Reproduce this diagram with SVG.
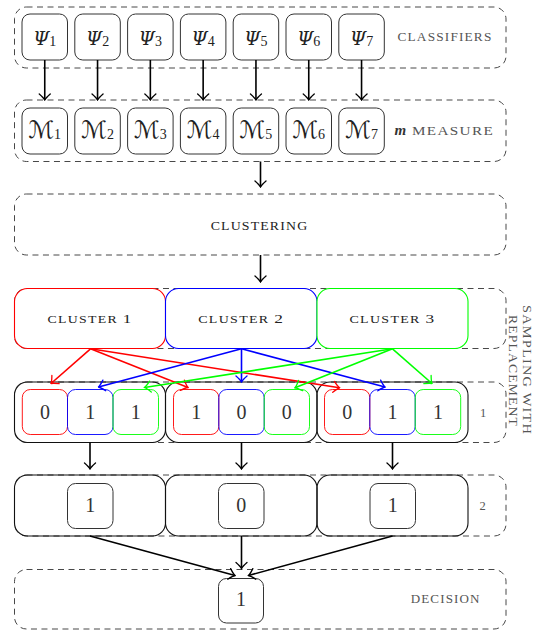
<svg xmlns="http://www.w3.org/2000/svg" width="534" height="631" viewBox="0 0 534 631">
<defs>
<style>
.dash{fill:none;stroke:#333;stroke-width:0.9;stroke-dasharray:6 4.5}
.box{fill:#fff;stroke:#333;stroke-width:1}
.obox{fill:none;stroke:#111;stroke-width:1.1}
.red{stroke:#ff0000}
.blue{stroke:#0000ff}
.green{stroke:#00ff00}
.cl{fill:#fff;stroke-width:1.1}
.ib{fill:none;stroke-width:0.9}
.lab{font-family:"Liberation Serif","Times New Roman",serif;fill:#555}
.dk{fill:#222}
.num{font-family:"Liberation Serif","Times New Roman",serif;fill:#333;font-size:20px;text-anchor:middle}
.math{font-family:"DejaVu Serif",serif;fill:#222;font-size:18.5px;text-anchor:middle}
.cal{font-family:"DejaVu Serif","DejaVu Sans",serif;fill:#222;font-size:24px;text-anchor:middle}
.sub{font-family:"Liberation Serif","Times New Roman",serif;font-size:14px;font-style:normal}
.ar{fill:none;stroke-width:1.6}
.k{stroke:#000}
</style>
<marker id="ak" viewBox="-8 -7 9 14" refX="0" refY="0" markerWidth="9" markerHeight="14" markerUnits="userSpaceOnUse" orient="auto"><path d="M-6,-5.5 Q-2,-1 0,0 Q-2,1 -6,5.5" fill="none" stroke="#000" stroke-width="1.3" stroke-linecap="round"/></marker>
<marker id="ar" viewBox="-8 -7 9 14" refX="0" refY="0" markerWidth="9" markerHeight="14" markerUnits="userSpaceOnUse" orient="auto"><path d="M-6,-5.5 Q-2,-1 0,0 Q-2,1 -6,5.5" fill="none" stroke="#ff0000" stroke-width="1.3" stroke-linecap="round"/></marker>
<marker id="ab" viewBox="-8 -7 9 14" refX="0" refY="0" markerWidth="9" markerHeight="14" markerUnits="userSpaceOnUse" orient="auto"><path d="M-6,-5.5 Q-2,-1 0,0 Q-2,1 -6,5.5" fill="none" stroke="#0000ff" stroke-width="1.3" stroke-linecap="round"/></marker>
<marker id="ag" viewBox="-8 -7 9 14" refX="0" refY="0" markerWidth="9" markerHeight="14" markerUnits="userSpaceOnUse" orient="auto"><path d="M-6,-5.5 Q-2,-1 0,0 Q-2,1 -6,5.5" fill="none" stroke="#00ff00" stroke-width="1.3" stroke-linecap="round"/></marker>
</defs>
<rect width="534" height="631" fill="#fff"/>

<!-- row containers -->
<g id="classifiers-row">
<rect class="dash" x="14.5" y="7" width="491.5" height="61" rx="12"/>
<text class="lab" style="font-size:11.5px" x="397.5" y="41" textLength="95" lengthAdjust="spacingAndGlyphs" letter-spacing="1">CLASSIFIERS</text>
</g>
<g id="measure-row">
<rect class="dash" x="14.5" y="100" width="491.5" height="61.5" rx="12"/>
<text class="lab" style="font-size:15px;font-style:italic;font-weight:bold;fill:#333" x="394.5" y="135">m</text>
<text class="lab" style="font-size:11.5px" x="412" y="135" textLength="82" lengthAdjust="spacingAndGlyphs" letter-spacing="1">MEASURE</text>
</g>
<g id="clustering">
<rect class="dash" x="14.5" y="194" width="491.5" height="61" rx="12"/>
<text class="lab dk" style="font-size:12px" x="210.7" y="229.5" textLength="97.6" lengthAdjust="spacingAndGlyphs" letter-spacing="1">CLUSTERING</text>
</g>
<g id="sampling-row">
<rect class="dash" x="14.5" y="288.5" width="491.5" height="60" rx="12"/>
<text class="lab" style="font-size:12px" transform="translate(523,370) rotate(90)" text-anchor="middle" textLength="130" lengthAdjust="spacingAndGlyphs" letter-spacing="1">SAMPLING WITH</text>
<text class="lab" style="font-size:12px" transform="translate(509,371) rotate(90)" text-anchor="middle" textLength="112" lengthAdjust="spacingAndGlyphs" letter-spacing="1">REPLACEMENT</text>
</g>
<g id="level1-row">
<rect class="dash" x="14.5" y="382" width="491.5" height="60.5" rx="12"/>
<text class="lab" style="font-size:12.5px" x="483" y="417" text-anchor="middle">1</text>
</g>
<g id="level2-row">
<rect class="dash" x="14.5" y="475" width="491.5" height="61" rx="12"/>
<text class="lab" style="font-size:12.5px" x="482.5" y="510.3" text-anchor="middle">2</text>
</g>
<g id="decision-row">
<rect class="dash" x="14.5" y="569.5" width="491.5" height="59.5" rx="12"/>
<text class="lab" style="font-size:11.5px" x="410.7" y="603" textLength="70" lengthAdjust="spacingAndGlyphs" letter-spacing="1">DECISION</text>
</g>

<!-- classifiers -->
<g id="psi1"><rect class="box" x="22" y="14" width="45.5" height="46" rx="8"/><text class="math" x="44.75" y="44.7"><tspan font-style="italic">Ψ</tspan><tspan class="sub" dy="1.3">1</tspan></text></g>
<g id="psi2"><rect class="box" x="74.8" y="14" width="45.5" height="46" rx="8"/><text class="math" x="97.55" y="44.7"><tspan font-style="italic">Ψ</tspan><tspan class="sub" dy="1.3">2</tspan></text></g>
<g id="psi3"><rect class="box" x="127.6" y="14" width="45.5" height="46" rx="8"/><text class="math" x="150.35" y="44.7"><tspan font-style="italic">Ψ</tspan><tspan class="sub" dy="1.3">3</tspan></text></g>
<g id="psi4"><rect class="box" x="180.4" y="14" width="45.5" height="46" rx="8"/><text class="math" x="203.15" y="44.7"><tspan font-style="italic">Ψ</tspan><tspan class="sub" dy="1.3">4</tspan></text></g>
<g id="psi5"><rect class="box" x="233.2" y="14" width="45.5" height="46" rx="8"/><text class="math" x="255.95" y="44.7"><tspan font-style="italic">Ψ</tspan><tspan class="sub" dy="1.3">5</tspan></text></g>
<g id="psi6"><rect class="box" x="286" y="14" width="45.5" height="46" rx="8"/><text class="math" x="308.75" y="44.7"><tspan font-style="italic">Ψ</tspan><tspan class="sub" dy="1.3">6</tspan></text></g>
<g id="psi7"><rect class="box" x="338.8" y="14" width="45.5" height="46" rx="8"/><text class="math" x="361.55" y="44.7"><tspan font-style="italic">Ψ</tspan><tspan class="sub" dy="1.3">7</tspan></text></g>

<!-- measures -->
<g id="m1"><rect class="box" x="22" y="108" width="45.5" height="46" rx="8"/><text class="cal" x="44.75" y="137.5">ℳ<tspan class="sub" dy="1.5">1</tspan></text></g>
<g id="m2"><rect class="box" x="74.8" y="108" width="45.5" height="46" rx="8"/><text class="cal" x="97.55" y="137.5">ℳ<tspan class="sub" dy="1.5">2</tspan></text></g>
<g id="m3"><rect class="box" x="127.6" y="108" width="45.5" height="46" rx="8"/><text class="cal" x="150.35" y="137.5">ℳ<tspan class="sub" dy="1.5">3</tspan></text></g>
<g id="m4"><rect class="box" x="180.4" y="108" width="45.5" height="46" rx="8"/><text class="cal" x="203.15" y="137.5">ℳ<tspan class="sub" dy="1.5">4</tspan></text></g>
<g id="m5"><rect class="box" x="233.2" y="108" width="45.5" height="46" rx="8"/><text class="cal" x="255.95" y="137.5">ℳ<tspan class="sub" dy="1.5">5</tspan></text></g>
<g id="m6"><rect class="box" x="286" y="108" width="45.5" height="46" rx="8"/><text class="cal" x="308.75" y="137.5">ℳ<tspan class="sub" dy="1.5">6</tspan></text></g>
<g id="m7"><rect class="box" x="338.8" y="108" width="45.5" height="46" rx="8"/><text class="cal" x="361.55" y="137.5">ℳ<tspan class="sub" dy="1.5">7</tspan></text></g>

<!-- clusters -->
<g id="cluster1"><rect class="cl red" x="14.5" y="288.5" width="151" height="60" rx="13"/><text class="lab dk" style="font-size:10.5px" x="90" y="322.5" text-anchor="middle" textLength="85" lengthAdjust="spacingAndGlyphs" letter-spacing="1">CLUSTER <tspan style="font-size:13px">1</tspan></text></g>
<g id="cluster2"><rect class="cl blue" x="165.5" y="288.5" width="151.5" height="60" rx="13"/><text class="lab dk" style="font-size:10.5px" x="241.25" y="322.5" text-anchor="middle" textLength="86" lengthAdjust="spacingAndGlyphs" letter-spacing="1">CLUSTER <tspan style="font-size:13px">2</tspan></text></g>
<g id="cluster3"><rect class="cl green" x="317" y="288.5" width="151" height="60" rx="13"/><text class="lab dk" style="font-size:10.5px" x="392.5" y="322.5" text-anchor="middle" textLength="86" lengthAdjust="spacingAndGlyphs" letter-spacing="1">CLUSTER <tspan style="font-size:13px">3</tspan></text></g>

<!-- level 1 samples -->
<g id="sample1">
<rect class="obox" x="14.5" y="382" width="151" height="60.5" rx="13"/>
<rect class="ib red" x="22.3" y="389.5" width="45.2" height="45" rx="8"/>
<rect class="ib blue" x="67.5" y="389.5" width="45.5" height="45" rx="8"/>
<rect class="ib green" x="113" y="389.5" width="45.5" height="45" rx="8"/>
<text class="num" x="44.9" y="419.3">0</text><text class="num" x="90.25" y="419.3">1</text><text class="num" x="135.75" y="419.3">1</text>
</g>
<g id="sample2">
<rect class="obox" x="165.5" y="382" width="151.5" height="60.5" rx="13"/>
<rect class="ib red" x="173.5" y="389.5" width="45.3" height="45" rx="8"/>
<rect class="ib blue" x="218.8" y="389.5" width="45.4" height="45" rx="8"/>
<rect class="ib green" x="264.2" y="389.5" width="45.3" height="45" rx="8"/>
<text class="num" x="196.15" y="419.3">1</text><text class="num" x="241.5" y="419.3">0</text><text class="num" x="286.85" y="419.3">0</text>
</g>
<g id="sample3">
<rect class="obox" x="317" y="382" width="151" height="60.5" rx="13"/>
<rect class="ib red" x="324.5" y="389.5" width="45.3" height="45" rx="8"/>
<rect class="ib blue" x="369.8" y="389.5" width="45.4" height="45" rx="8"/>
<rect class="ib green" x="415.2" y="389.5" width="45.5" height="45" rx="8"/>
<text class="num" x="347.15" y="419.3">0</text><text class="num" x="392.5" y="419.3">1</text><text class="num" x="437.95" y="419.3">1</text>
</g>

<!-- level 2 votes -->
<g id="vote1"><rect class="obox" x="14.5" y="475" width="151" height="61" rx="13"/><rect class="box" x="67.5" y="483.5" width="45.5" height="45" rx="8"/><text class="num" x="90.25" y="512.3">1</text></g>
<g id="vote2"><rect class="obox" x="165.5" y="475" width="151.5" height="61" rx="13"/><rect class="box" x="218.5" y="483.5" width="45.5" height="45" rx="8"/><text class="num" x="241.25" y="512.3">0</text></g>
<g id="vote3"><rect class="obox" x="317" y="475" width="151" height="61" rx="13"/><rect class="box" x="370" y="483.5" width="45.5" height="45" rx="8"/><text class="num" x="392.75" y="512.3">1</text></g>

<!-- decision -->
<g id="decision"><rect class="box" x="218.5" y="578.5" width="45" height="44.5" rx="8"/><text class="num" x="241" y="606">1</text></g>

<!-- connectors -->
<g id="connectors">
<g class="ar k" marker-end="url(#ak)">
<line x1="44.75" y1="60" x2="44.75" y2="100"/>
<line x1="97.55" y1="60" x2="97.55" y2="100"/>
<line x1="150.35" y1="60" x2="150.35" y2="100"/>
<line x1="203.15" y1="60" x2="203.15" y2="100"/>
<line x1="255.95" y1="60" x2="255.95" y2="100"/>
<line x1="308.75" y1="60" x2="308.75" y2="100"/>
<line x1="361.55" y1="60" x2="361.55" y2="100"/>
<line x1="260.5" y1="161.5" x2="260.5" y2="187"/>
<line x1="260.5" y1="255" x2="260.5" y2="282"/>
<line x1="90" y1="442.5" x2="90" y2="469"/>
<line x1="241.5" y1="442.5" x2="241.5" y2="469"/>
<line x1="392.5" y1="442.5" x2="392.5" y2="469"/>
<line x1="90" y1="536" x2="235" y2="575.5"/>
<line x1="241.5" y1="536" x2="241.5" y2="568.5"/>
<line x1="392.5" y1="536" x2="248.5" y2="575.5"/>
</g>
<g class="ar red" marker-end="url(#ar)">
<line x1="90.5" y1="348.8" x2="51" y2="383.5"/>
<line x1="90.5" y1="348.8" x2="188" y2="387.5"/>
<line x1="90.5" y1="348.8" x2="339.5" y2="387.8"/>
</g>
<g class="ar blue" marker-end="url(#ab)">
<line x1="241.5" y1="348.8" x2="98.5" y2="387"/>
<line x1="241.5" y1="348.8" x2="241.5" y2="382"/>
<line x1="241.5" y1="348.8" x2="385" y2="387"/>
</g>
<g class="ar green" marker-end="url(#ag)">
<line x1="392.5" y1="348.8" x2="144.5" y2="387.5"/>
<line x1="392.5" y1="348.8" x2="295" y2="387.8"/>
<line x1="392.5" y1="348.8" x2="432" y2="383.5"/>
</g>
</g>
</svg>
